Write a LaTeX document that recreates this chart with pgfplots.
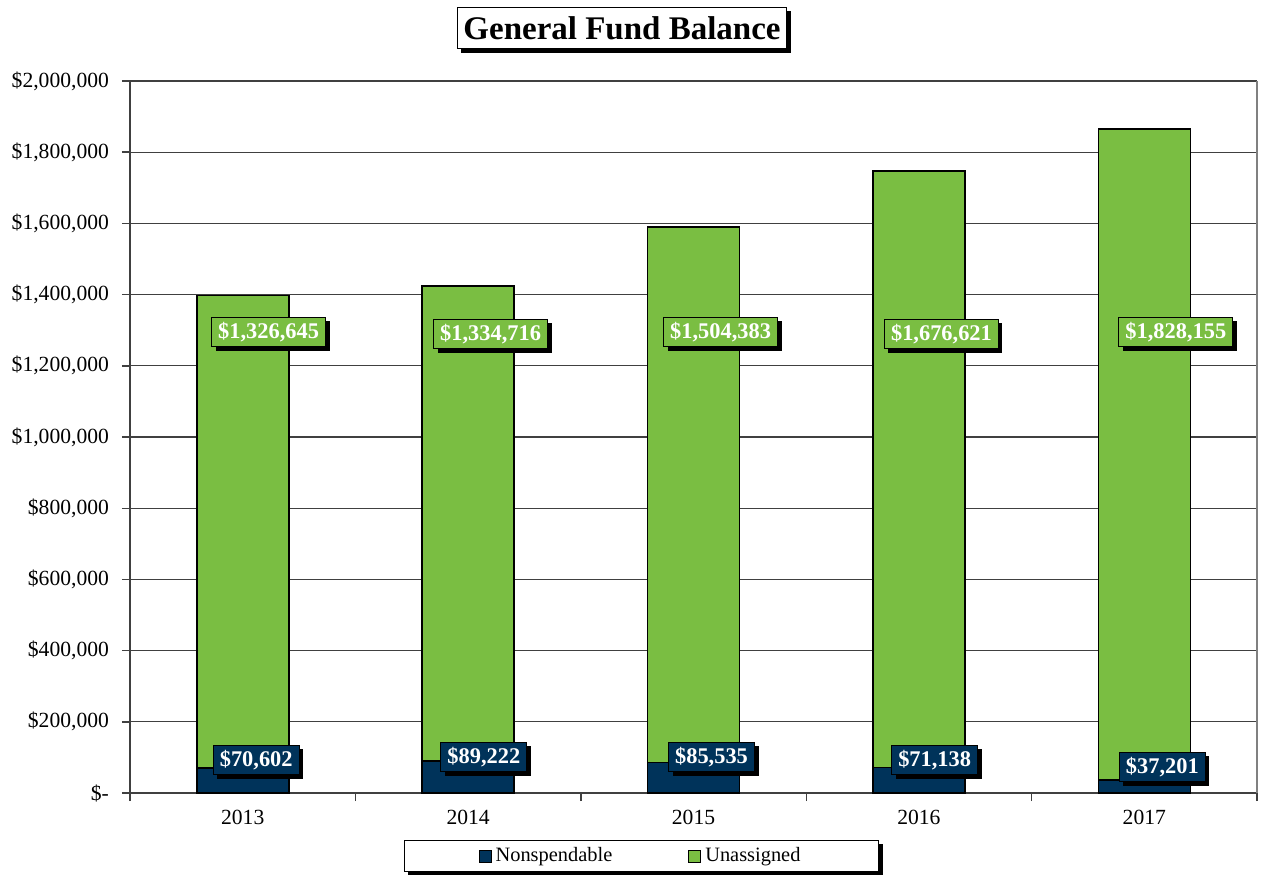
\documentclass[border=0pt]{standalone}
\usepackage{fontspec}
\setmainfont{Liberation Serif}
\usepackage{pgfplots}
\pgfplotsset{compat=1.18}
\usetikzlibrary{shadows,calc}
\definecolor{navy}{RGB}{0,51,90}
\definecolor{grn}{RGB}{122,190,66}
\definecolor{dgray}{RGB}{64,64,64}
\tikzset{
  shd/.style={drop shadow={shadow xshift=2pt, shadow yshift=-2pt, fill=black, opacity=1}},
  lbl/.style={draw=black, fill=#1, text=white, font=\fontsize{11.2}{12}\selectfont\bfseries,
    inner xsep=3.3pt, inner ysep=2.4pt, shd},
}
\begin{document}
\begin{tikzpicture}
\begin{axis}[
  scale only axis, width=563.5pt, height=356pt,
  xmin=-0.5, xmax=4.5, ymin=0, ymax=2000000,
  ybar stacked, bar width=46pt,
  axis x line*=bottom, axis y line*=left,
  axis line style={dgray, line width=0.7pt, -},
  scaled y ticks=false,
  xtick={-0.5,0.5,1.5,2.5,3.5,4.5}, xticklabels={},
  extra x ticks={0,1,2,3,4},
  extra x tick labels={2013,2014,2015,2016,2017},
  extra x tick style={major tick length=0pt, grid=none},
  ytick={0,200000,...,2000000},
  yticklabels={\$-,{\$200,000},{\$400,000},{\$600,000},{\$800,000},{\$1,000,000},{\$1,200,000},{\$1,400,000},{\$1,600,000},{\$1,800,000},{\$2,000,000}},
  tick align=outside, major tick length=4pt,
  tick style={dgray, line width=0.7pt},
  ymajorgrids, grid style={dgray, line width=0.6pt},
  ticklabel style={font=\fontsize{10.8}{12}\selectfont},
  yticklabel style={xshift=-3pt},
  xticklabel style={yshift=-5pt},
  title={General Fund Balance},
  every axis title shift=0pt,
  title style={at={(0.4366,1.0744)}, anchor=center, draw=black, fill=white, shd,
    font=\fontsize{16.5}{18}\selectfont\bfseries, inner xsep=3pt, inner ysep=4.5pt},
  legend columns=2,
  legend style={at={(0.4539,-0.0885)}, anchor=center, draw=black, fill=white, name=leg,
    font=\fontsize{10.2}{11}\selectfont, inner xsep=37pt, inner ysep=1.5pt,
    /tikz/every even column/.append style={column sep=36pt}},
  legend image code/.code={\draw[#1, draw=black, line width=0.5pt] (0pt,-3pt) rectangle (6pt,3pt);},
]
\addplot[fill=navy, draw=black, line width=0.8pt] coordinates {(0,70602) (1,89222) (2,85535) (3,71138) (4,37201)};
\addlegendentry{Nonspendable}
\addplot[fill=grn, draw=black, line width=0.8pt] coordinates {(0,1326645) (1,1334716) (2,1504383) (3,1676621) (4,1828155)};
\addlegendentry{Unassigned}

\coordinate (u0) at (axis cs:0.115,1295000);
\coordinate (u1) at (axis cs:1.10,1289000);
\coordinate (u2) at (axis cs:2.12,1295000);
\coordinate (u3) at (axis cs:3.10,1289000);
\coordinate (u4) at (axis cs:4.14,1295000);
\coordinate (n0) at (axis cs:0.06,92700);
\coordinate (n1) at (axis cs:1.07,101000);
\coordinate (n2) at (axis cs:2.08,101000);
\coordinate (n3) at (axis cs:3.07,92700);
\coordinate (n4) at (axis cs:4.08,73000);
\coordinate (re0) at (rel axis cs:1,0);
\coordinate (re1) at (rel axis cs:1,1);
\end{axis}
\draw[gray, line width=0.6pt] (re0) -- (re1);
\fill[black] ($(leg.south west)+(2pt,-2pt)$) rectangle ($(leg.south east)+(2pt,0pt)$);
\fill[black] ($(leg.south east)+(0pt,-2pt)$) rectangle ($(leg.north east)+(2pt,-2pt)$);

\node[lbl=grn] at (u0) {\$1,326,645};
\node[lbl=grn] at (u1) {\$1,334,716};
\node[lbl=grn] at (u2) {\$1,504,383};
\node[lbl=grn] at (u3) {\$1,676,621};
\node[lbl=grn] at (u4) {\$1,828,155};
\node[lbl=navy] at (n0) {\$70,602};
\node[lbl=navy] at (n1) {\$89,222};
\node[lbl=navy] at (n2) {\$85,535};
\node[lbl=navy] at (n3) {\$71,138};
\node[lbl=navy] at (n4) {\$37,201};

\pgfresetboundingbox
\path[use as bounding box] ($(current axis.south west)+(-65pt,-40.5pt)$) rectangle ++(631pt,437pt);
\end{tikzpicture}
\end{document}
